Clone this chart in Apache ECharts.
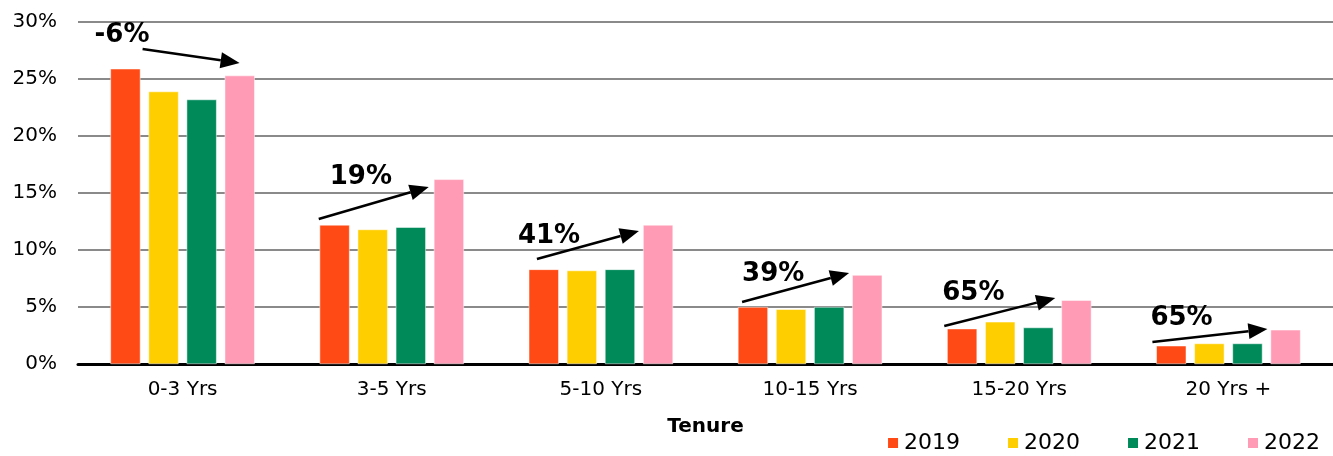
<!DOCTYPE html>
<html><head><meta charset="utf-8">
<script src="https://cdn.jsdelivr.net/npm/echarts@6/dist/echarts.min.js"></script>
<style>html,body{margin:0;padding:0;background:#fff}#c{width:1333px;height:456px}</style>
</head><body><div id="c"></div>
<script>
const categories = ['0-3 Yrs','3-5 Yrs','5-10 Yrs','10-15 Yrs','15-20 Yrs','20 Yrs +'];
const years = ['2019','2020','2021','2022'];
const v2019 = [25.9, 12.2, 8.3, 5.0, 3.1, 1.6];
const v2020 = [23.9, 11.8, 8.2, 4.8, 3.7, 1.8];
const v2021 = [23.2, 12.0, 8.3, 5.0, 3.2, 1.8];
const v2022 = [25.3, 16.2, 12.2, 7.8, 5.6, 3.0];
const changeLabels = ['-6%','19%','41%','39%','65%','65%'];
const yTicks = [0,5,10,15,20,25,30];

const colors = ['#FF4A15','#FFCE00','#008A5A','#FF9BB5'];
const font = '"DejaVu Sans", sans-serif';
const seriesData = [v2019, v2020, v2021, v2022];

const chart = echarts.init(document.getElementById('c'));
chart.setOption({
  animation: false,
  color: colors,
  grid: { left: 78, right: -9, top: 22, bottom: 92, containLabel: false },
  legend: {
    data: years, right: 8, bottom: -3, itemWidth: 12, itemHeight: 12, itemGap: 46,
    icon: 'rect',
    textStyle: { fontSize: 22, color: '#000', fontFamily: font }
  },
  xAxis: {
    type: 'category', data: categories,
    name: 'Tenure', nameLocation: 'middle', nameGap: 53,
    nameTextStyle: { fontSize: 20, fontWeight: 'bold', color: '#000', fontFamily: font },
    axisLine: { lineStyle: { color: '#000', width: 3 } },
    axisTick: { show: false },
    axisLabel: { fontSize: 20, color: '#000', margin: 16, fontFamily: font }
  },
  yAxis: {
    type: 'value', min: yTicks[0], max: yTicks[yTicks.length-1], interval: 5,
    axisLine: { show: false }, axisTick: { show: false },
    axisLabel: { formatter: '{value}%', fontSize: 20, color: '#000', margin: 21, fontFamily: font },
    splitLine: { lineStyle: { color: '#8a8a8a', width: 2 } }
  },
  series: years.map((y, i) => ({
    name: y, type: 'bar', data: seriesData[i], barWidth: 30, barGap: '27%',
    itemStyle: { color: colors[i], borderColor: '#fff', borderWidth: 0.5 }
  }))
});

// Annotation arrows placed relative to category centre (pixel offsets)
const arrowCfg = [
  { sx: -40, sy: 49, ex: 57, ey: 63, tx: -88, ty: 35 },
  { sx: -73, sy: 219, ex: 37, ey: 187, tx: -62, ty: 177 },
  { sx: -64, sy: 259, ex: 38, ey: 231, tx: -83, ty: 236 },
  { sx: -68, sy: 302, ex: 39, ey: 273, tx: -68, ty: 274 },
  { sx: -75, sy: 326, ex: 36, ey: 298, tx: -77, ty: 293 },
  { sx: -76, sy: 342, ex: 39, ey: 329, tx: -78, ty: 318 }
];
const g = [];
categories.forEach((c, i) => {
  const cx = chart.convertToPixel({ xAxisIndex: 0 }, c);
  const a = arrowCfg[i];
  const x1 = cx + a.sx, y1 = a.sy, x2 = cx + a.ex, y2 = a.ey;
  const ang = Math.atan2(y2 - y1, x2 - x1);
  const L = 19, W = 8;
  const bx = x2 - L * Math.cos(ang), by = y2 - L * Math.sin(ang);
  const px = -Math.sin(ang) * W, py = Math.cos(ang) * W;
  g.push({ type: 'line', shape: { x1, y1, x2: bx, y2: by }, style: { stroke: '#000', lineWidth: 2.5 } });
  g.push({ type: 'polygon', shape: { points: [[x2, y2], [bx + px, by + py], [bx - px, by - py]] }, style: { fill: '#000' } });
  g.push({ type: 'text', x: cx + a.tx, y: a.ty, style: { text: changeLabels[i], fill: '#000', font: 'bold 26px ' + font, verticalAlign: 'middle', align: 'left' } });
});
chart.setOption({ graphic: g });
</script></body></html>
